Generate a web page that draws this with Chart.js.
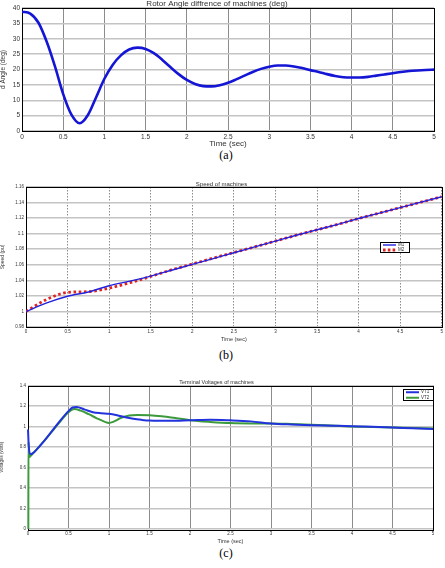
<!DOCTYPE html>
<html><head><meta charset="utf-8">
<script src="https://cdn.jsdelivr.net/npm/chart.js@4.4.0/dist/chart.umd.min.js"></script>
<style>
body{margin:0;background:#fff;width:445px;height:568px;position:relative;overflow:hidden;}
canvas{position:absolute;left:0;}
.cap{position:absolute;left:0;width:452px;text-align:center;font-family:"Liberation Serif","DejaVu Serif",serif;font-size:12px;color:#000;line-height:12px;}
</style></head><body>
<canvas id="ca" width="445" height="148" style="top:0"></canvas>
<div class="cap" style="top:149px">(a)</div>
<canvas id="cb" width="445" height="162" style="top:180px"></canvas>
<div class="cap" style="top:349px">(b)</div>
<canvas id="cc" width="445" height="166" style="top:378px"></canvas>
<div class="cap" style="top:547px">(c)</div>
<script>
// ---- data ----
const timeA = [0,0.1,0.2,0.3,0.4,0.5,0.6,0.7,0.8,0.9,1,1.1,1.2,1.3,1.4,1.5,1.6,1.7,1.8,1.9,2,2.1,2.2,2.3,2.4,2.5,2.6,2.7,2.8,2.9,3,3.1,3.2,3.3,3.4,3.5,3.6,3.7,3.8,3.9,4,4.1,4.2,4.3,4.4,4.5,4.6,4.7,4.8,4.9,5];
const rotorAngle = [38.8,38.2,35.2,29,21,12,5.3,2.5,5.2,11,17,21.5,24.6,26.5,27.1,26.7,25.3,23.2,20.8,18.5,16.6,15.3,14.6,14.5,14.9,15.7,16.8,18,19.2,20.2,20.9,21.3,21.3,21,20.5,19.8,19.2,18.5,17.9,17.5,17.4,17.4,17.6,18,18.4,18.8,19.2,19.5,19.7,19.85,19.95];

const timeB = [0,0.25,0.5,0.75,1,1.25,1.5,1.75,2,2.25,2.5,2.75,3,3.25,3.5,3.75,4,4.25,4.5,4.75,5];
const speedM1 = [1.0,1.011,1.0195,1.025,1.033,1.039,1.0455,1.053,1.0605,1.068,1.0755,1.083,1.0905,1.098,1.105,1.112,1.1195,1.1265,1.1335,1.1405,1.1475];
const speedM2 = [1.0,1.0155,1.0245,1.0255,1.030,1.037,1.045,1.0535,1.061,1.0685,1.0758,1.083,1.0905,1.098,1.105,1.112,1.1195,1.1265,1.1335,1.1405,1.1475];

const timeV1 = [0,0.01,0.03,0.06,0.1,0.2,0.3,0.4,0.5,0.55,0.6,0.7,0.8,0.9,1.0,1.1,1.2,1.3,1.4,1.5,1.75,2.0,2.25,2.5,2.75,3.0,3.25,3.5,3.75,4.0,4.25,4.5,4.75,5.0];
const voltVT1 = [0.97,0.80,0.73,0.74,0.77,0.86,0.96,1.06,1.15,1.185,1.19,1.165,1.14,1.13,1.125,1.11,1.09,1.075,1.065,1.058,1.055,1.06,1.066,1.06,1.05,1.03,1.02,1.013,1.008,1.003,0.997,0.99,0.982,0.975];
const timeV2 = [0.004,0.006,0.015,0.04,0.1,0.2,0.3,0.4,0.5,0.57,0.65,0.75,0.85,0.95,1.0,1.05,1.15,1.25,1.35,1.5,1.65,1.8,2.0,2.25,2.5,2.75,3.0,3.25,3.5,3.75,4.0,4.25,4.5,4.75,5.0];
const voltVT2 = [0,0.85,0.70,0.72,0.77,0.86,0.955,1.05,1.14,1.17,1.155,1.12,1.08,1.045,1.035,1.045,1.085,1.108,1.113,1.11,1.10,1.085,1.062,1.045,1.033,1.03,1.03,1.025,1.018,1.01,1.0,0.995,0.99,0.985,0.98];

const xTicksStep = 0.5;
const titles = ['Rotor Angle diffrence of machines (deg)','Speed of machines','Terminal Voltages of machines'];
const yTitles = ['d Angle (deg)','Speed (pu)','Voltages (volts)'];
const xTitle = 'Time (sec)';

// ---- helpers ----
const xy = (xs, ys) => xs.map((x,i)=>({x, y:ys[i]}));
const fmt = v => String(+Number(v).toFixed(2));
const FONT = '"Liberation Sans", Arial, sans-serif';

const frame = {
  id:'frame',
  beforeDatasetsDraw(chart){
    const {ctx, chartArea:a} = chart;
    ctx.save(); ctx.strokeStyle='#000'; ctx.lineWidth=1;
    ctx.strokeRect(Math.round(a.left)+0.5, Math.round(a.top)+0.5, Math.round(a.right-a.left), Math.round(a.bottom-a.top));
    ctx.restore();
  }
};
const boxLegend = {
  id:'boxLegend',
  afterDraw(chart, args, o){
    if(!o || !o.items) return;
    const ctx = chart.ctx;
    ctx.save();
    ctx.fillStyle='#fff'; ctx.fillRect(o.x,o.y,o.w,o.h);
    ctx.strokeStyle='#000'; ctx.lineWidth=1; ctx.strokeRect(o.x+0.5,o.y+0.5,o.w,o.h);
    o.items.forEach((it,i)=>{
      const yy = o.y + o.h*(i+0.5)/o.items.length + 0.5;
      ctx.strokeStyle=it.color; ctx.lineWidth=it.width; ctx.setLineDash(it.dash||[]);
      ctx.beginPath(); ctx.moveTo(o.x+3,yy); ctx.lineTo(o.x+16,yy); ctx.stroke();
      ctx.setLineDash([]);
      ctx.fillStyle='#333'; ctx.font = o.font + 'px ' + FONT; ctx.textBaseline='middle';
      ctx.fillText(it.label, o.x+18, yy);
    });
    ctx.restore();
  }
};

function build(id, p){
  return new Chart(document.getElementById(id), {
    type:'line',
    data:{datasets:p.datasets},
    plugins:[frame, boxLegend],
    options:{
      responsive:false, animation:false,
      layout:{padding:p.pad},
      elements:{point:{radius:0}, line:{cubicInterpolationMode:'monotone'}},
      plugins:{
        legend:{display:false}, tooltip:{enabled:false},
        title:{display:true, text:p.title, color:'#333', font:{family:FONT,size:p.titleSize,weight:'normal',lineHeight:1}, padding:{top:p.titleTop||0,bottom:p.titleBottom||0}},
        boxLegend:p.legend||{}
      },
      scales:{
        x:{type:'linear', min:0, max:5,
           afterFit(s){ s.height = p.xH; },
           ticks:{stepSize:xTicksStep, callback:fmt, color:'#333', padding:p.tickPad||2, maxRotation:0, autoSkip:false, font:{family:FONT,size:p.tickSize}},
           grid:{color:p.vGrid, lineWidth:1, drawTicks:false},
           border:{display:false, dash:p.vDash||[]},
           title:{display:true, text:xTitle, color:'#333', padding:{top:p.xtPad||1,bottom:0}, font:{family:FONT,size:p.xtSize,lineHeight:1}}},
        y:{min:p.yMin, max:p.yMax,
           afterFit(s){ s.width = p.yW; },
           ticks:{stepSize:p.yStep, callback:fmt, color:'#333', padding:2, font:{family:FONT,size:p.tickSize}},
           grid:{color:p.hGrid, lineWidth:p.hW||1.5, drawTicks:false},
           border:{display:false},
           title:{display:true, text:p.yTitle, color:'#333', padding:{top:0,bottom:0}, font:{family:FONT,size:p.ytSize,lineHeight:1}}}
      }
    }
  });
}

build('ca', {
  title:titles[0], titleSize:8, pad:{left:0,right:11,top:0,bottom:0},
  xH:17, yW:22, tickSize:6.5, xtSize:8, ytSize:6.5, yTitle:yTitles[0],
  yMin:0, yMax:40, yStep:5, vGrid:'#8c8c8c', hGrid:'#c4c4c4',
  datasets:[{data:xy(timeA, rotorAngle), borderColor:'#1515d6', borderWidth:2.6}]
});

build('cb', {
  title:titles[1], titleSize:6, titleTop:1, pad:{left:0,right:2,top:0,bottom:0},
  xH:15, yW:26, tickSize:4.5, xtSize:5.5, ytSize:5, yTitle:yTitles[1],
  yMin:0.98, yMax:1.16, yStep:0.02, vGrid:'#8a8a8a', vDash:[1.5,1.5], hGrid:'#c4c4c4',
  datasets:[
    {data:xy(timeB, speedM1), borderColor:'#2222dd', borderWidth:1.4},
    {data:xy(timeB, speedM2), borderColor:'#e02424', borderWidth:2.8, borderDash:[2.6,2.6]}
  ],
  legend:{x:380, y:62, w:29, h:10, font:4.5, items:[
    {label:'M1', color:'#2222dd', width:1.4},
    {label:'M2', color:'#e02424', width:2.8, dash:[2.6,2.2]}
  ]}
});

build('cc', {
  title:titles[2], titleSize:5.5, titleTop:2, pad:{left:0,right:12,top:0,bottom:0},
  xH:15, yW:28, tickSize:4.5, xtSize:5.5, ytSize:4.5, yTitle:yTitles[2],
  yMin:0, yMax:1.4, yStep:0.2, vGrid:'#8c8c8c', hGrid:'#c4c4c4',
  datasets:[
    {data:xy(timeV1, voltVT1), borderColor:'#2233dd', borderWidth:2, clip:4},
    {data:xy(timeV2, voltVT2), borderColor:'#3c9a3c', borderWidth:2, clip:4}
  ],
  legend:{x:403, y:11, w:30, h:11, font:4.5, items:[
    {label:'VT1', color:'#2233dd', width:2},
    {label:'VT2', color:'#3c9a3c', width:2}
  ]}
});
</script>
</body></html>
